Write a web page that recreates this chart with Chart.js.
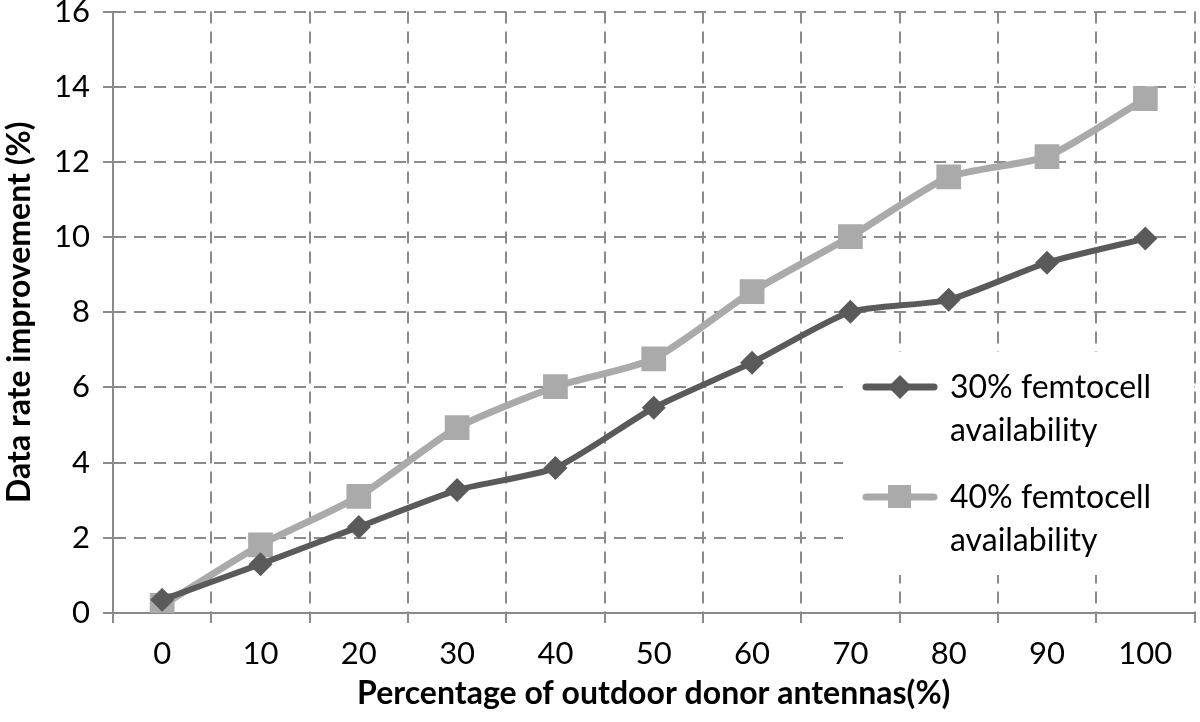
<!DOCTYPE html>
<html>
<head>
<meta charset="utf-8">
<script src="https://cdn.jsdelivr.net/npm/chart.js@4"></script>
<style>
  html, body { margin: 0; padding: 0; background: #fff; overflow: hidden; }
  /* canvas a bit bigger than the window so the plot area lands where the original has it */
  #wrap { width: 1212px; height: 728px; margin-top: -6px; position: relative; }
</style>
</head>
<body>
<div id="wrap"><canvas id="chart"></canvas></div>
<script>
// data
var categories = ["0", "10", "20", "30", "40", "50", "60", "70", "80", "90", "100"];
var femto30 = [0.35, 1.3, 2.29, 3.27, 3.86, 5.46, 6.66, 8.01, 8.33, 9.32, 9.96];
var femto40 = [0.2, 1.81, 3.1, 4.93, 6.02, 6.76, 8.55, 10.01, 11.6, 12.14, 13.68];
var seriesNames = [["30% femtocell", "availability"], ["40% femtocell", "availability"]];
var yTitle = "Data rate improvement (%)";
var xTitle = "Percentage of outdoor donor antennas(%)";

var darkGray = "#5a5a5a";
var lightGray = "#aaaaaa";
var gridGray = "#8a8a8a";
var fontName = "Lato";
var OY = 6; // canvas is shifted up by this much

// legend box inside the plot, plus the x axis title
var extras = {
  id: "extras",
  afterDatasetsDraw: function (chart) {
    var ctx = chart.ctx;
    ctx.save();
    ctx.fillStyle = "#fff";
    ctx.fillRect(843, 352 + OY, 347, 223);

    var items = [
      { y: 387 + OY, color: darkGray, shape: "diamond", lines: seriesNames[0] },
      { y: 497 + OY, color: lightGray, shape: "square", lines: seriesNames[1] }
    ];
    items.forEach(function (it) {
      ctx.strokeStyle = it.color;
      ctx.lineWidth = 7;
      ctx.lineCap = "round";
      ctx.beginPath();
      ctx.moveTo(866, it.y);
      ctx.lineTo(934, it.y);
      ctx.stroke();
      ctx.fillStyle = it.color;
      ctx.beginPath();
      if (it.shape === "diamond") {
        ctx.moveTo(900, it.y - 12);
        ctx.lineTo(912, it.y);
        ctx.lineTo(900, it.y + 12);
        ctx.lineTo(888, it.y);
        ctx.closePath();
      } else {
        ctx.rect(888, it.y - 12, 23, 23);
      }
      ctx.fill();
      ctx.fillStyle = "#000";
      ctx.font = "32px " + fontName;
      ctx.textBaseline = "alphabetic";
      ctx.textAlign = "left";
      ctx.fillText(it.lines[0], 950, it.y + 11);
      ctx.fillText(it.lines[1], 950, it.y + 54);
    });

    var area = chart.chartArea;
    ctx.font = "bold 32px " + fontName;
    ctx.textAlign = "center";
    ctx.textBaseline = "alphabetic";
    ctx.fillStyle = "#000";
    ctx.fillText(xTitle, (area.left + area.right) / 2, 704 + OY);
    ctx.restore();
  }
};

var gridOpts = {
  color: gridGray,
  lineWidth: 2,
  tickBorderDash: [],
  tickColor: gridGray,
  tickLength: 10,
  tickWidth: 2
};

new Chart("chart", {
  type: "line",
  data: {
    labels: categories,
    datasets: [{
      label: seriesNames[0].join(" "),
      data: femto30,
      borderColor: darkGray,
      backgroundColor: darkGray,
      borderWidth: 6,
      pointStyle: "rectRot",
      pointRadius: 12,
      pointBorderWidth: 0,
      tension: 0.2
    }, {
      label: seriesNames[1].join(" "),
      data: femto40,
      borderColor: lightGray,
      backgroundColor: lightGray,
      borderWidth: 7,
      pointStyle: "rect",
      pointRadius: 17.5,
      pointBorderWidth: 0,
      tension: 0.2
    }]
  },
  options: {
    responsive: true,
    maintainAspectRatio: false,
    animation: false,
    layout: { padding: { top: 0, right: 5, left: 0, bottom: 0 } },
    plugins: {
      legend: { display: false },
      tooltip: { enabled: false }
    },
    scales: {
      x: {
        offset: true,
        grid: Object.assign({ offset: true }, gridOpts),
        border: { display: true, color: gridGray, width: 2, dash: [12, 8] },
        ticks: { color: "#000", font: { family: fontName, size: 31 }, padding: 12 },
        afterFit: function (scale) { scale.height = 109; }
      },
      y: {
        min: 0,
        max: 16,
        ticks: { stepSize: 2, color: "#000", font: { family: fontName, size: 31, lineHeight: 0.01 }, padding: 13 },
        grid: gridOpts,
        border: { display: true, color: gridGray, width: 2, dash: [12, 8] },
        title: {
          display: true,
          text: yTitle,
          color: "#000",
          font: { family: fontName, size: 32, weight: "bold" },
          padding: { top: 0, bottom: 0 }
        },
        afterFit: function (scale) { scale.width = 113; }
      }
    }
  },
  plugins: [extras]
});
</script>
</body>
</html>
